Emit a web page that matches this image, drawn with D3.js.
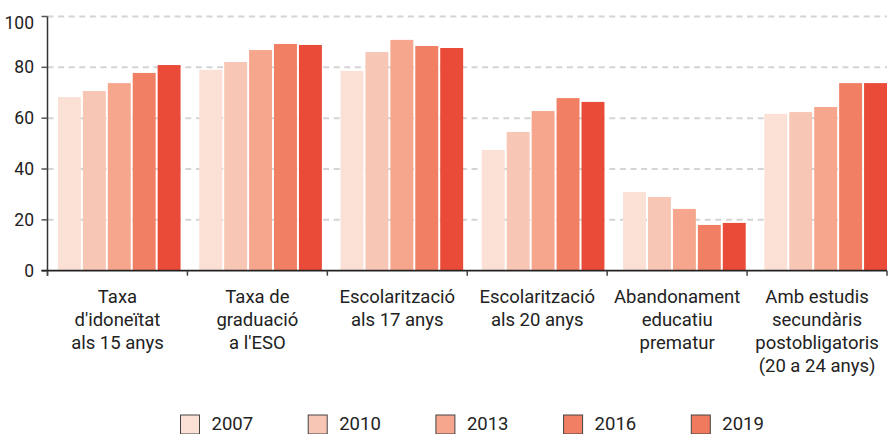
<!DOCTYPE html>
<html>
<head>
<meta charset="utf-8">
<script src="https://cdn.jsdelivr.net/npm/d3@7"></script>
<style>
  body { margin: 0; background: #fff; }
  text { font-family: Roboto, "Noto Sans", sans-serif; fill: #222; }
</style>
</head>
<body>
<div id="chart"></div>
<script>
// chart values
var categories = [
  ["Taxa", "d'idoneïtat", "als 15 anys"],
  ["Taxa de", "graduació", "a l'ESO"],
  ["Escolarització", "als 17 anys"],
  ["Escolarització", "als 20 anys"],
  ["Abandonament", "educatiu", "prematur"],
  ["Amb estudis", "secundàris", "postobligatoris", "(20 a 24 anys)"]
];
var years = ["2007", "2010", "2013", "2016", "2019"];
var values2007 = [68.3, 79.0, 78.6, 47.5, 31.0, 61.7];
var values2010 = [70.7, 82.1, 86.0, 54.6, 29.0, 62.4];
var values2013 = [73.8, 86.8, 90.8, 62.8, 24.3, 64.4];
var values2016 = [77.8, 89.2, 88.4, 67.9, 18.0, 73.8];
var values2019 = [80.9, 88.8, 87.6, 66.4, 18.8, 73.8];
var yTicks = [0, 20, 40, 60, 80, 100];

var series = [values2007, values2010, values2013, values2016, values2019];
var barColors = ["#fbe0d6", "#f8c6b5", "#f5a68c", "#f07f64", "#e94b38"];
var legendColors = ["#fbe0d6", "#f8c6b5", "#f5a68c", "#f07f64", "#ef7a5d"];

var width = 893, height = 434;
var mLeft = 47.5, mRight = 887, mTop = 16.5, mBottom = 270.7;

var svg = d3.select('#chart').append('svg')
  .attr('width', width)
  .attr('height', height);

var idx = d3.range(categories.length);

// axis bands (ticks + labels)
var xAxisBand = d3.scaleBand().domain(idx).range([mLeft, mRight]);
// bar groups
var x0 = d3.scaleBand().domain(idx).range([mLeft, mRight])
  .paddingInner(0.132).paddingOuter(0.037).align(1);
var x1 = d3.scaleBand().domain(years).range([0, x0.bandwidth()]).paddingInner(0.08);
var y = d3.scaleLinear().domain([0, 100]).range([mBottom, mTop]);

// gridlines
svg.append('g').selectAll('line')
  .data(yTicks.filter(function(d) { return d > 0; }))
  .join('line')
  .attr('x1', mLeft).attr('x2', mRight)
  .attr('y1', function(d) { return y(d); })
  .attr('y2', function(d) { return y(d); })
  .style('stroke', '#d4d4d4')
  .style('stroke-width', 2)
  .style('stroke-dasharray', '6,4.6');

// bars
var groups = svg.append('g').selectAll('g')
  .data(idx)
  .join('g')
  .attr('transform', function(i) { return 'translate(' + x0(i) + ',0)'; });

groups.selectAll('rect')
  .data(function(i) { return years.map(function(yr, k) { return { year: yr, k: k, v: series[k][i] }; }); })
  .join('rect')
  .attr('x', function(d) { return x1(d.year); })
  .attr('width', x1.bandwidth())
  .attr('y', function(d) { return y(d.v); })
  .attr('height', function(d) { return y(0) - y(d.v); })
  .style('fill', function(d) { return barColors[d.k]; });

// y axis
svg.append('line')
  .attr('x1', mLeft).attr('x2', mLeft)
  .attr('y1', mTop).attr('y2', mBottom + 5)
  .style('stroke', '#333').style('stroke-width', 1.5);

var yT = svg.append('g').selectAll('g')
  .data(yTicks)
  .join('g');
yT.append('line')
  .attr('x1', mLeft - 6).attr('x2', mLeft)
  .attr('y1', function(d) { return y(d); })
  .attr('y2', function(d) { return y(d); })
  .style('stroke', '#555').style('stroke-width', 1.5);
yT.append('text')
  .attr('x', 34)
  .attr('y', function(d) { return Math.max(y(d), 23) + 6; })
  .attr('text-anchor', 'end')
  .style('font-size', '17.5px')
  .text(function(d) { return d; });

// x axis
svg.append('line')
  .attr('x1', mLeft - 6).attr('x2', mRight)
  .attr('y1', mBottom).attr('y2', mBottom)
  .style('stroke', '#222').style('stroke-width', 1.8);

svg.append('g').selectAll('line')
  .data(idx.map(function(i) { return xAxisBand(i); }).concat([mRight]))
  .join('line')
  .attr('x1', function(d) { return d; }).attr('x2', function(d) { return d; })
  .attr('y1', mBottom).attr('y2', mBottom + 5)
  .style('stroke', '#444').style('stroke-width', 1.5);

var labels = svg.append('g').selectAll('text')
  .data(idx)
  .join('text')
  .attr('text-anchor', 'middle')
  .style('font-size', '18.5px')
  .attr('transform', function(i) {
    return 'translate(' + (xAxisBand(i) + xAxisBand.bandwidth() / 2) + ',303)';
  });
labels.selectAll('tspan')
  .data(function(i) { return categories[i]; })
  .join('tspan')
  .attr('x', 0)
  .attr('y', function(d, k) { return k * 23; })
  .text(function(d) { return d; });

// legend
var legend = svg.append('g').selectAll('g')
  .data(years)
  .join('g')
  .attr('transform', function(d, k) { return 'translate(' + (180.5 + k * 127.7) + ',415)'; });
legend.append('rect')
  .attr('width', 19).attr('height', 19)
  .style('fill', function(d, k) { return legendColors[k]; })
  .style('stroke', '#444').style('stroke-width', 1);
legend.append('text')
  .attr('x', 31).attr('y', 14.5)
  .style('font-size', '18.5px')
  .text(function(d) { return d; });
</script>
</body>
</html>
